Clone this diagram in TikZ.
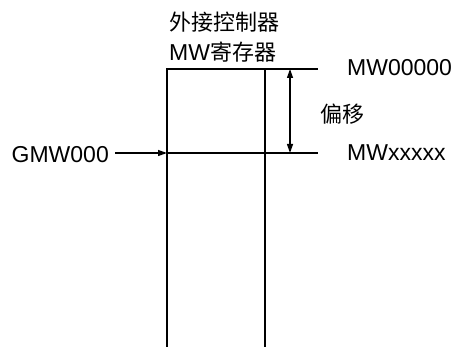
\documentclass[tikz,border=0pt]{standalone}
\usepackage{fontspec}
\setmainfont{Liberation Sans}
\newfontfamily\cjk{Noto Sans CJK SC}
\usetikzlibrary{arrows.meta}
\begin{document}
\begin{tikzpicture}[x=1pt,y=-1pt,
  lbl/.style={inner sep=0pt,font=\fontsize{23}{28}\selectfont},
  cjklbl/.style={inner sep=0pt,font=\fontsize{22}{28}\selectfont\cjk},
  thinline/.style={line width=1.2pt},
  boxline/.style={line width=2.4pt},
  arr/.style={-{Triangle[length=9pt,width=6pt]}}]
\useasboundingbox (0,0) rectangle (455,347);
% register column
\coordinate (bl) at (167,347);
\coordinate (tl) at (167,69);
\coordinate (tr) at (265,69);
\coordinate (br) at (265,347);
\draw[boxline] (bl) -- (tl) -- (tr) -- (br);
% reference lines
\coordinate (topend) at (318,69);
\coordinate (gstart) at (115,153);
\coordinate (gleft) at (167,153);
\coordinate (gend) at (318,153);
\draw[thinline] (tr) -- (topend);
\draw[thinline] (gleft) -- (gend);
\draw[thinline,arr] (gstart) -- (gleft);
% offset arrow
\coordinate (oa) at (290,69);
\coordinate (ob) at (290,153);
\draw[thinline,{Triangle[length=9pt,width=6pt]}-{Triangle[length=9pt,width=6pt]}] (oa) -- (ob);
% labels
\node[cjklbl,anchor=base west] (t1) at (169,31) {外接控制器};
\node[lbl,anchor=base west] (t2) at (169,61) {MW{\cjk\fontsize{22}{28}\selectfont 寄存器}};
\node[lbl,anchor=base west] (mw0) at (347,76) {MW00000};
\node[lbl,anchor=base west] (mwx) at (347,161) {MWxxxxx};
\node[lbl,anchor=base east] (gmw) at (109,163) {GMW000};
\node[cjklbl,anchor=base west] (off) at (320,123) {偏移};
\end{tikzpicture}
\end{document}
